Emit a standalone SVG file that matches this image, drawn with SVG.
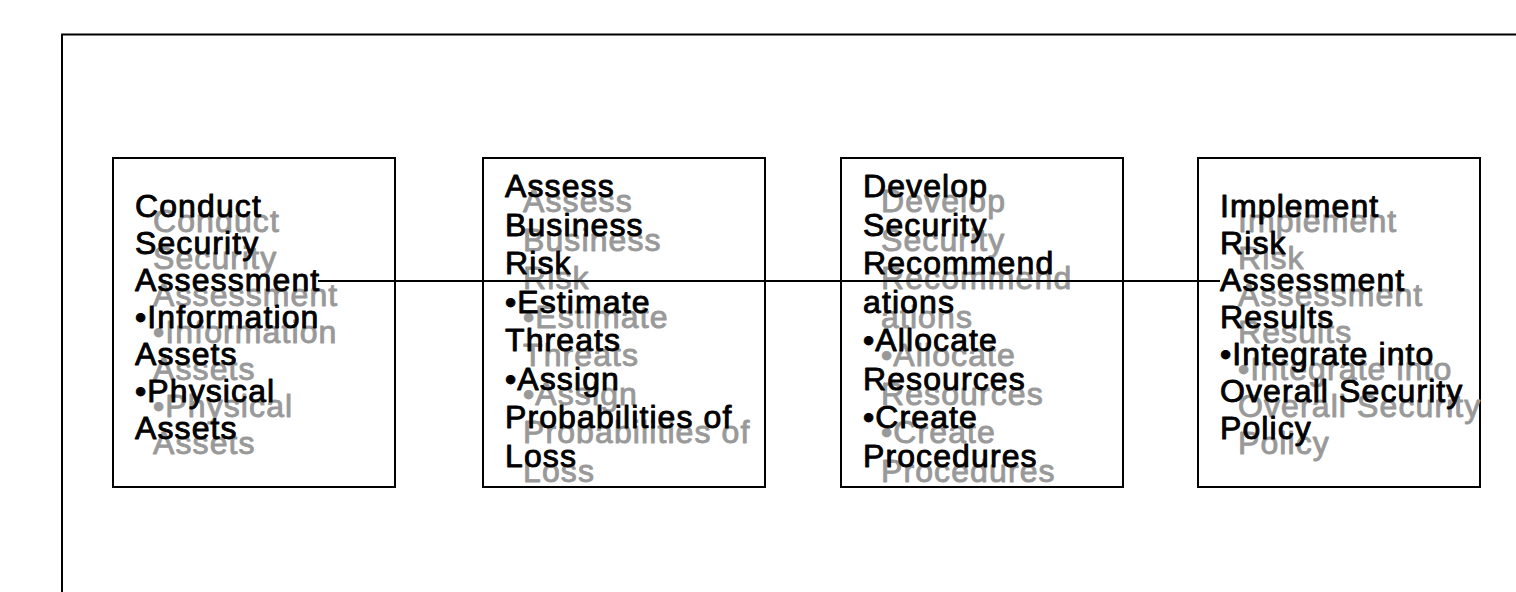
<svg xmlns="http://www.w3.org/2000/svg" width="1516" height="592" viewBox="0 0 1516 592">
  <style>
    .frame { fill: none; stroke: #000; stroke-width: 2; }
    .box { fill: #fff; stroke: #000; stroke-width: 2; }
    .link { stroke: #000; stroke-width: 2; fill: none; }
    .lbl { font-family: "Liberation Sans", Arial, sans-serif; font-size: 32px; letter-spacing: 1.1px; stroke-width: 0.9px; stroke-linejoin: round; }
    .front { fill: #000; stroke: #000; }
    .shadow { fill: #999; stroke: #999; }
  </style>
  <rect width="1516" height="592" fill="#fff"/>
  <!-- outer frame, open to the right and bottom -->
  <path class="frame" d="M62,592 V34.5 H1516"/>

  <g id="node-conduct">
    <rect class="box" x="113" y="158" width="282" height="329"/>
    <text class="lbl shadow" x="153" y="232">
      <tspan x="153">Conduct</tspan><tspan x="153" dy="37">Security</tspan><tspan x="153" dy="37">Assessment</tspan><tspan x="153" dy="37">•Information</tspan><tspan x="153" dy="37">Assets</tspan><tspan x="153" dy="37">•Physical</tspan><tspan x="153" dy="37">Assets</tspan>
    </text>
    <text class="lbl front" x="135" y="217">
      <tspan x="135">Conduct</tspan><tspan x="135" dy="37">Security</tspan><tspan x="135" dy="37">Assessment</tspan><tspan x="135" dy="37">•Information</tspan><tspan x="135" dy="37">Assets</tspan><tspan x="135" dy="37">•Physical</tspan><tspan x="135" dy="37">Assets</tspan>
    </text>
  </g>

  <g id="node-assess">
    <rect class="box" x="483" y="158" width="282" height="329"/>
    <text class="lbl shadow" x="523" y="212">
      <tspan x="523">Assess</tspan><tspan x="523" dy="38.5">Business</tspan><tspan x="523" dy="38.5">Risk</tspan><tspan x="523" dy="38.5">•Estimate</tspan><tspan x="523" dy="38.5">Threats</tspan><tspan x="523" dy="38.5">•Assign</tspan><tspan x="523" dy="38.5">Probabilities of</tspan><tspan x="523" dy="38.5">Loss</tspan>
    </text>
    <text class="lbl front" x="505" y="197">
      <tspan x="505">Assess</tspan><tspan x="505" dy="38.5">Business</tspan><tspan x="505" dy="38.5">Risk</tspan><tspan x="505" dy="38.5">•Estimate</tspan><tspan x="505" dy="38.5">Threats</tspan><tspan x="505" dy="38.5">•Assign</tspan><tspan x="505" dy="38.5">Probabilities of</tspan><tspan x="505" dy="38.5">Loss</tspan>
    </text>
  </g>

  <g id="node-develop">
    <rect class="box" x="841" y="158" width="282" height="329"/>
    <text class="lbl shadow" x="881" y="212">
      <tspan x="881">Develop</tspan><tspan x="881" dy="38.5">Security</tspan><tspan x="881" dy="38.5">Recommend</tspan><tspan x="881" dy="38.5">ations</tspan><tspan x="881" dy="38.5">•Allocate</tspan><tspan x="881" dy="38.5">Resources</tspan><tspan x="881" dy="38.5">•Create</tspan><tspan x="881" dy="38.5">Procedures</tspan>
    </text>
    <text class="lbl front" x="863" y="197">
      <tspan x="863">Develop</tspan><tspan x="863" dy="38.5">Security</tspan><tspan x="863" dy="38.5">Recommend</tspan><tspan x="863" dy="38.5">ations</tspan><tspan x="863" dy="38.5">•Allocate</tspan><tspan x="863" dy="38.5">Resources</tspan><tspan x="863" dy="38.5">•Create</tspan><tspan x="863" dy="38.5">Procedures</tspan>
    </text>
  </g>

  <g id="node-implement">
    <rect class="box" x="1198" y="158" width="282" height="329"/>
    <text class="lbl shadow" x="1238" y="232">
      <tspan x="1238">Implement</tspan><tspan x="1238" dy="37">Risk</tspan><tspan x="1238" dy="37">Assessment</tspan><tspan x="1238" dy="37">Results</tspan><tspan x="1238" dy="37">•Integrate into</tspan><tspan x="1238" dy="37">Overall Security</tspan><tspan x="1238" dy="37">Policy</tspan>
    </text>
    <text class="lbl front" x="1220" y="217">
      <tspan x="1220">Implement</tspan><tspan x="1220" dy="37">Risk</tspan><tspan x="1220" dy="37">Assessment</tspan><tspan x="1220" dy="37">Results</tspan><tspan x="1220" dy="37">•Integrate into</tspan><tspan x="1220" dy="37">Overall Security</tspan><tspan x="1220" dy="37">Policy</tspan>
    </text>
  </g>

  <g id="connectors">
    <line class="link" x1="318" y1="281" x2="1220" y2="281"/>
  </g>
</svg>
